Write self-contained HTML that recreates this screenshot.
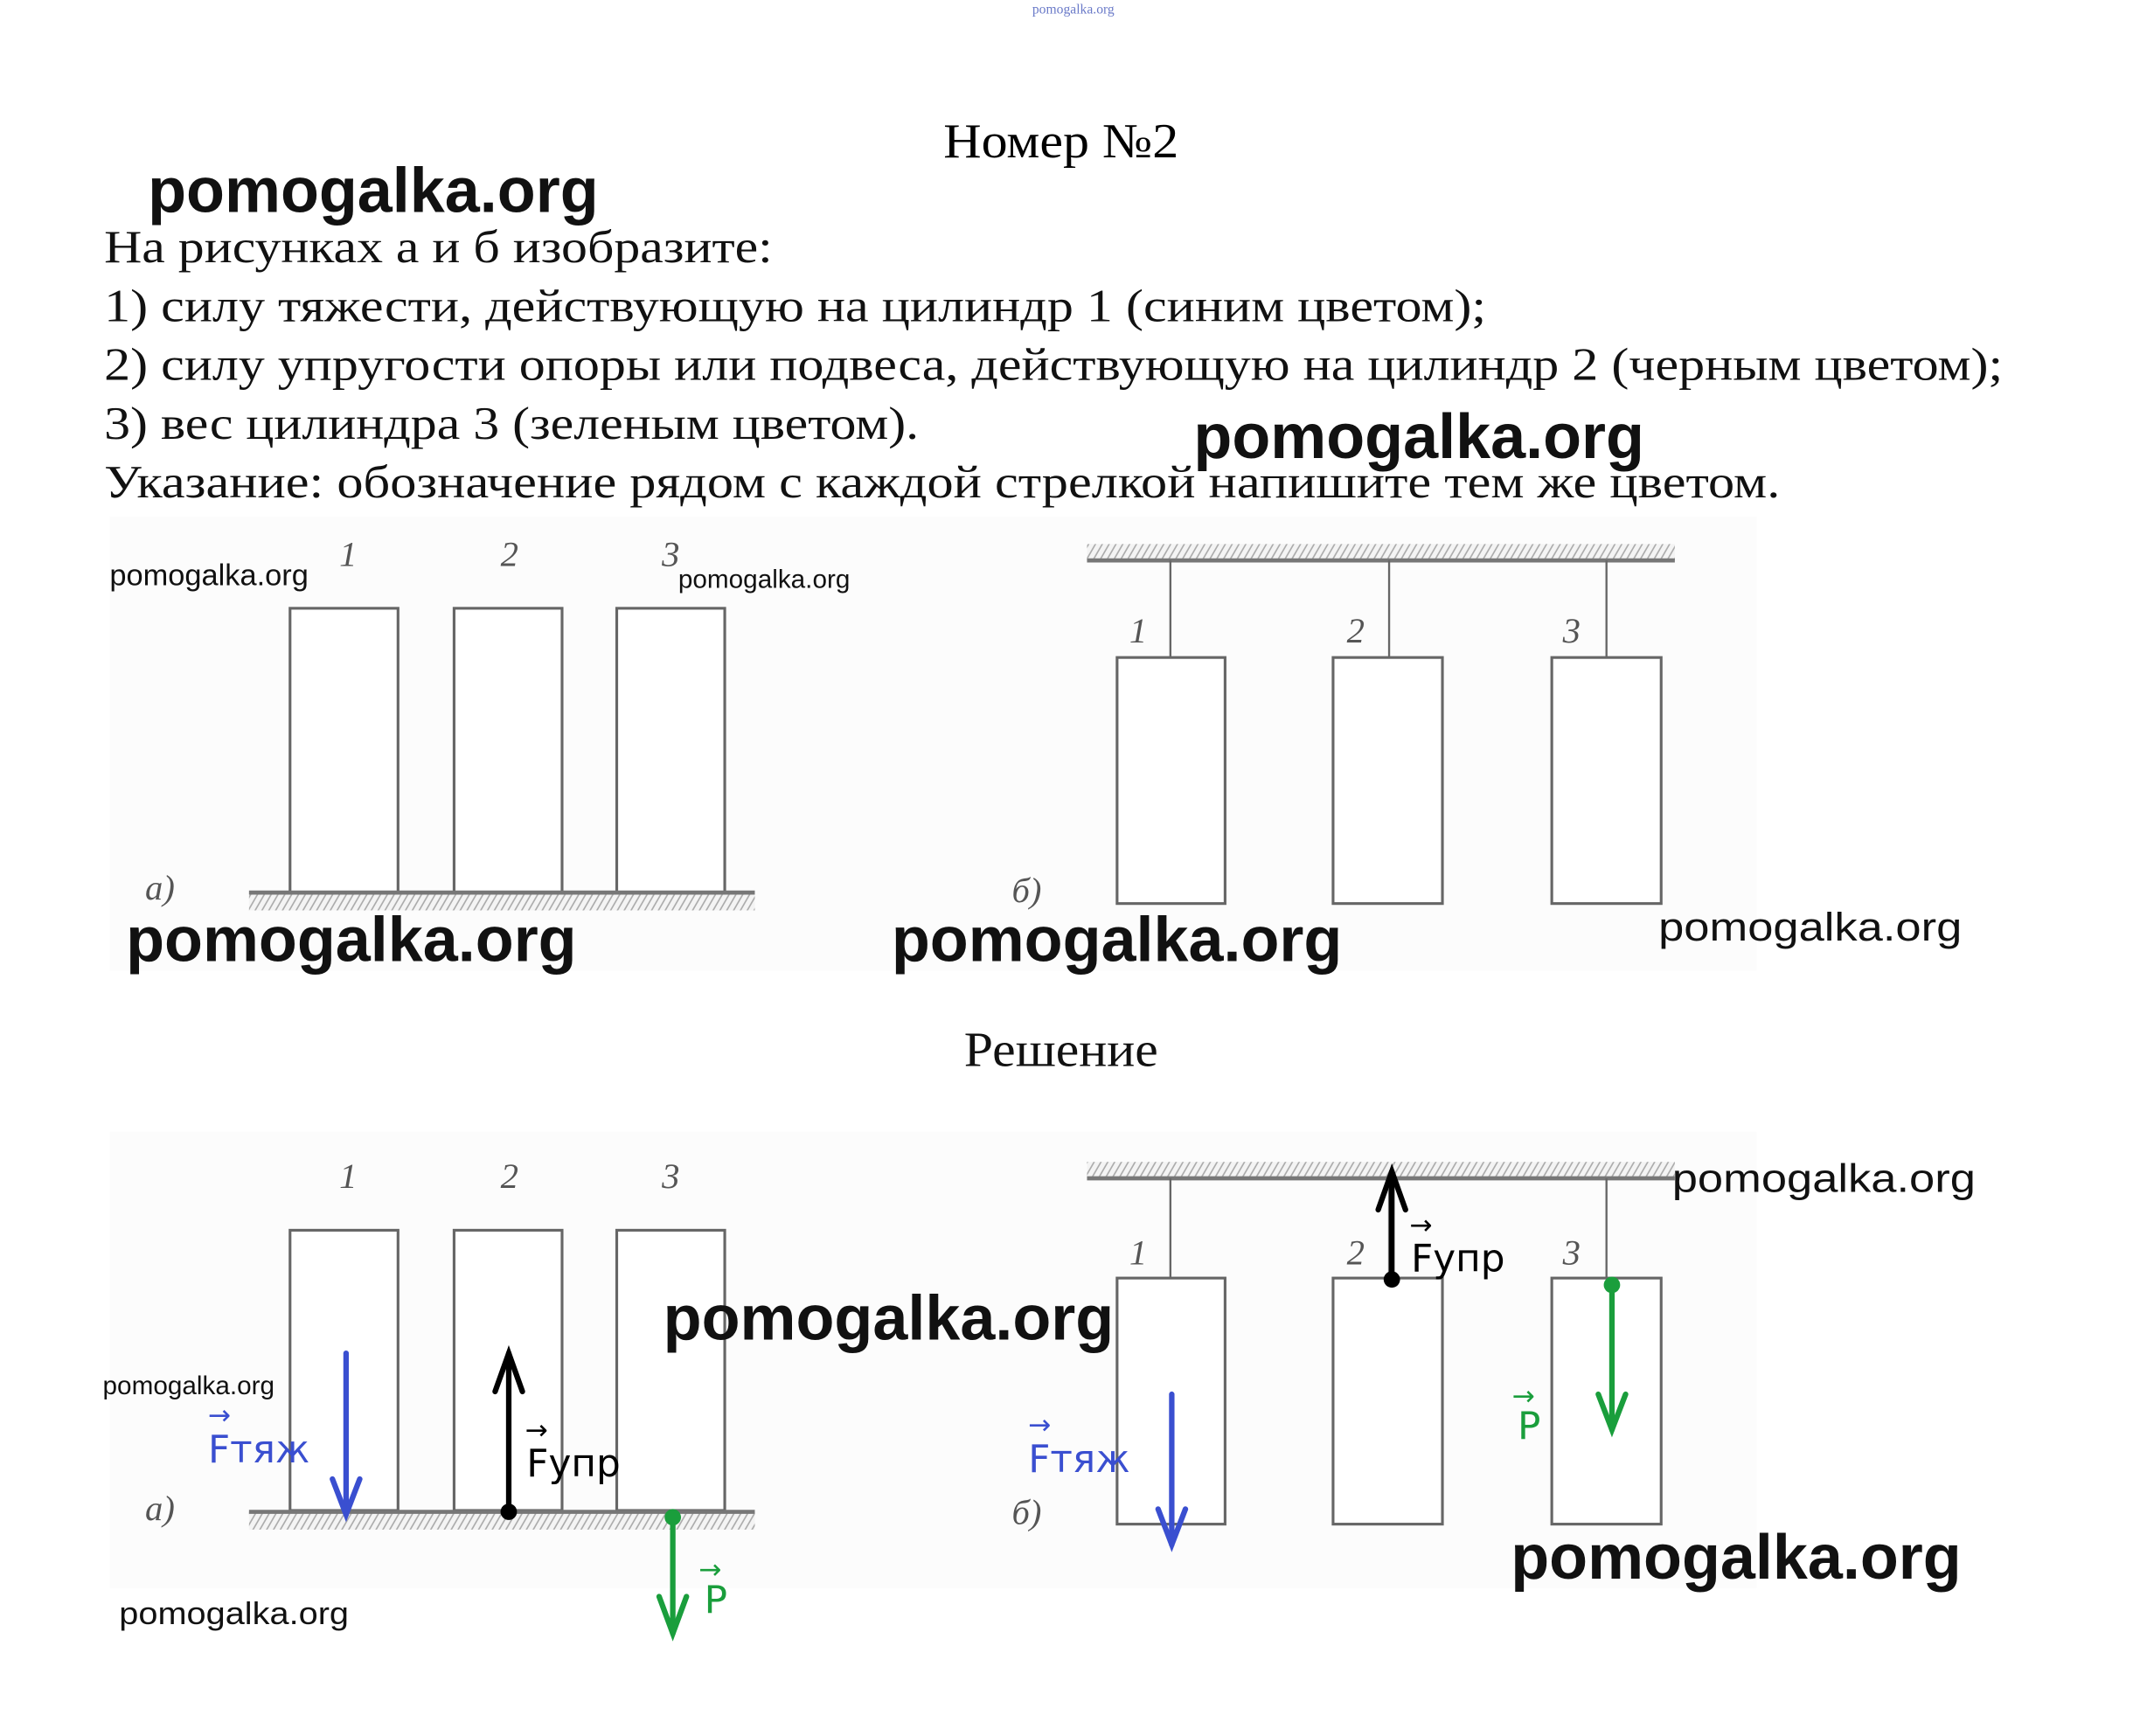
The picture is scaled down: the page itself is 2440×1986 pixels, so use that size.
<!DOCTYPE html>
<html><head><meta charset="utf-8"><style>
html,body{margin:0;padding:0;background:#fff;}
svg{display:block}
.ser{font-family:"Liberation Serif","DejaVu Serif",serif;}
.wm{font-family:"Liberation Sans","DejaVu Sans",sans-serif;font-weight:bold;fill:#111;}
.num{font-family:"Liberation Serif",serif;font-style:italic;fill:#555;font-size:26px;}
.lab{font-family:"DejaVu Sans","Liberation Sans",sans-serif;font-size:28px;}
</style></head><body>
<svg width="2440" height="1986" viewBox="0 0 1560 1270" xmlns="http://www.w3.org/2000/svg">
<defs>
<pattern id="h" width="5" height="12" patternUnits="userSpaceOnUse" patternTransform="skewX(-30)">
<rect width="5" height="12" fill="#f4f4f4"/><line x1="1" y1="0" x2="1" y2="12" stroke="#aaa" stroke-width="1.2"/></pattern>
</defs>
<rect width="1560" height="1270" fill="#fff"/>
<text x="785" y="10" font-size="10" fill="#6a7ac8" text-anchor="middle" class="ser">pomogalka.org</text>
<text x="690" y="115" font-size="36" textLength="172" lengthAdjust="spacingAndGlyphs" class="ser">Номер №2</text>
<g class="ser" font-size="34" fill="#111">
<text x="76" y="192" textLength="489" lengthAdjust="spacingAndGlyphs">На рисунках а и б изобразите:</text>
<text x="76" y="235" textLength="1011" lengthAdjust="spacingAndGlyphs">1) силу тяжести, действующую на цилиндр 1 (синим цветом);</text>
<text x="76" y="278" textLength="1389" lengthAdjust="spacingAndGlyphs">2) силу упругости опоры или подвеса, действующую на цилиндр 2 (черным цветом);</text>
<text x="76" y="321" textLength="596" lengthAdjust="spacingAndGlyphs">3) вес цилиндра 3 (зеленым цветом).</text>
<text x="76" y="364" textLength="1226" lengthAdjust="spacingAndGlyphs">Указание: обозначение рядом с каждой стрелкой напишите тем же цветом.</text>
<text x="705" y="780" font-size="36" textLength="142" lengthAdjust="spacingAndGlyphs">Решение</text>
</g>
<rect x="80" y="378" width="1205" height="332" fill="#fcfcfc"/>
<rect x="80" y="828" width="1205" height="334" fill="#fcfcfc"/>

<g fill="#fff" stroke="#666" stroke-width="2">
<rect x="212" y="445" width="79" height="208"/><rect x="332" y="445" width="79" height="208"/><rect x="451" y="445" width="79" height="208"/>
<rect x="817" y="481" width="79" height="180"/><rect x="975" y="481" width="80" height="180"/><rect x="1135" y="481" width="80" height="180"/>
<rect x="212" y="900" width="79" height="205"/><rect x="332" y="900" width="79" height="205"/><rect x="451" y="900" width="79" height="205"/>
<rect x="817" y="935" width="79" height="180"/><rect x="975" y="935" width="80" height="180"/><rect x="1135" y="935" width="80" height="180"/>
</g>
<rect x="182" y="653" width="370" height="13" fill="url(#h)"/><line x1="182" y1="653" x2="552" y2="653" stroke="#777" stroke-width="3"/>
<rect x="182" y="1106" width="370" height="13" fill="url(#h)"/><line x1="182" y1="1106" x2="552" y2="1106" stroke="#777" stroke-width="3"/>
<rect x="795" y="398" width="430" height="12" fill="url(#h)"/><line x1="795" y1="410" x2="1225" y2="410" stroke="#777" stroke-width="3"/>
<rect x="795" y="850" width="430" height="12" fill="url(#h)"/><line x1="795" y1="862" x2="1225" y2="862" stroke="#777" stroke-width="3"/>
<g stroke="#666" stroke-width="1.5">
<line x1="856" y1="410" x2="856" y2="481"/><line x1="1016" y1="410" x2="1016" y2="481"/><line x1="1175" y1="410" x2="1175" y2="481"/>
<line x1="856" y1="862" x2="856" y2="935"/><line x1="1016" y1="862" x2="1016" y2="935"/><line x1="1175" y1="862" x2="1175" y2="935"/>
</g>
<g class="num">
<text x="248" y="414">1</text><text x="366" y="414">2</text><text x="484" y="414">3</text>
<text x="826" y="470">1</text><text x="985" y="470">2</text><text x="1143" y="470">3</text>
<text x="106" y="658">a)</text><text x="740" y="660">б)</text>
<text x="248" y="869">1</text><text x="366" y="869">2</text><text x="484" y="869">3</text>
<text x="826" y="925">1</text><text x="985" y="925">2</text><text x="1143" y="925">3</text>
<text x="106" y="1112">a)</text><text x="740" y="1115">б)</text>
</g>

<g fill="none" stroke-width="4" stroke-linecap="round">
<g stroke="#3a4fd0"><line x1="253" y1="990" x2="253" y2="1108"/><path d="M243 1082 L253 1108 L263 1082"/>
<line x1="857" y1="1020" x2="857" y2="1130"/><path d="M847 1104 L857 1130 L867 1104"/></g>
<g stroke="#000"><line x1="372" y1="990" x2="372" y2="1106"/><path d="M362 1018 L372 990 L382 1018"/>
<line x1="1018" y1="857" x2="1018" y2="936"/><path d="M1008 885 L1018 857 L1028 885"/></g>
<g stroke="#1a9e3c"><line x1="492" y1="1110" x2="492" y2="1195"/><path d="M482 1168 L492 1195 L502 1168"/>
<line x1="1179" y1="940" x2="1179" y2="1046"/><path d="M1169 1020 L1179 1046 L1189 1020"/></g>
</g>
<circle cx="372" cy="1106" r="6"/><circle cx="1018" cy="936" r="6"/>
<circle cx="492" cy="1110" r="6" fill="#1a9e3c"/><circle cx="1179" cy="940" r="6" fill="#1a9e3c"/>
<g class="lab">
<text x="152" y="1070" fill="#3a4fd0">Fтяж</text><text x="152" y="1042" fill="#3a4fd0" font-size="20">→</text>
<text x="752" y="1077" fill="#3a4fd0">Fтяж</text><text x="752" y="1049" fill="#3a4fd0" font-size="20">→</text>
<text x="385" y="1080">Fупр</text><text x="384" y="1053" font-size="20">→</text>
<text x="1032" y="930">Fупр</text><text x="1031" y="903" font-size="20">→</text>
<text x="515" y="1180" fill="#1a9e3c">P</text><text x="511" y="1155" fill="#1a9e3c" font-size="20">→</text>
<text x="1110" y="1053" fill="#1a9e3c">P</text><text x="1106" y="1028" fill="#1a9e3c" font-size="20">→</text>
</g>

<g class="wm">
<text x="108" y="155" font-size="46">pomogalka.org</text>
<text x="873" y="335" font-size="46">pomogalka.org</text>
<text x="80" y="428" font-size="22" font-weight="normal">pomogalka.org</text>
<text x="496" y="430" font-size="19" font-weight="normal">pomogalka.org</text>
<text x="92" y="703" font-size="46">pomogalka.org</text>
<text x="652" y="703" font-size="46">pomogalka.org</text>
<text x="1213" y="688" font-size="29" font-weight="normal" textLength="222" lengthAdjust="spacingAndGlyphs">pomogalka.org</text>
<text x="75" y="1020" font-size="19" font-weight="normal">pomogalka.org</text>
<text x="87" y="1188" font-size="23" font-weight="normal" textLength="168" lengthAdjust="spacingAndGlyphs">pomogalka.org</text>
<text x="485" y="980" font-size="46">pomogalka.org</text>
<text x="1223" y="872" font-size="29" font-weight="normal" textLength="222" lengthAdjust="spacingAndGlyphs">pomogalka.org</text>
<text x="1105" y="1155" font-size="46">pomogalka.org</text>
</g>
</svg>
</body></html>
